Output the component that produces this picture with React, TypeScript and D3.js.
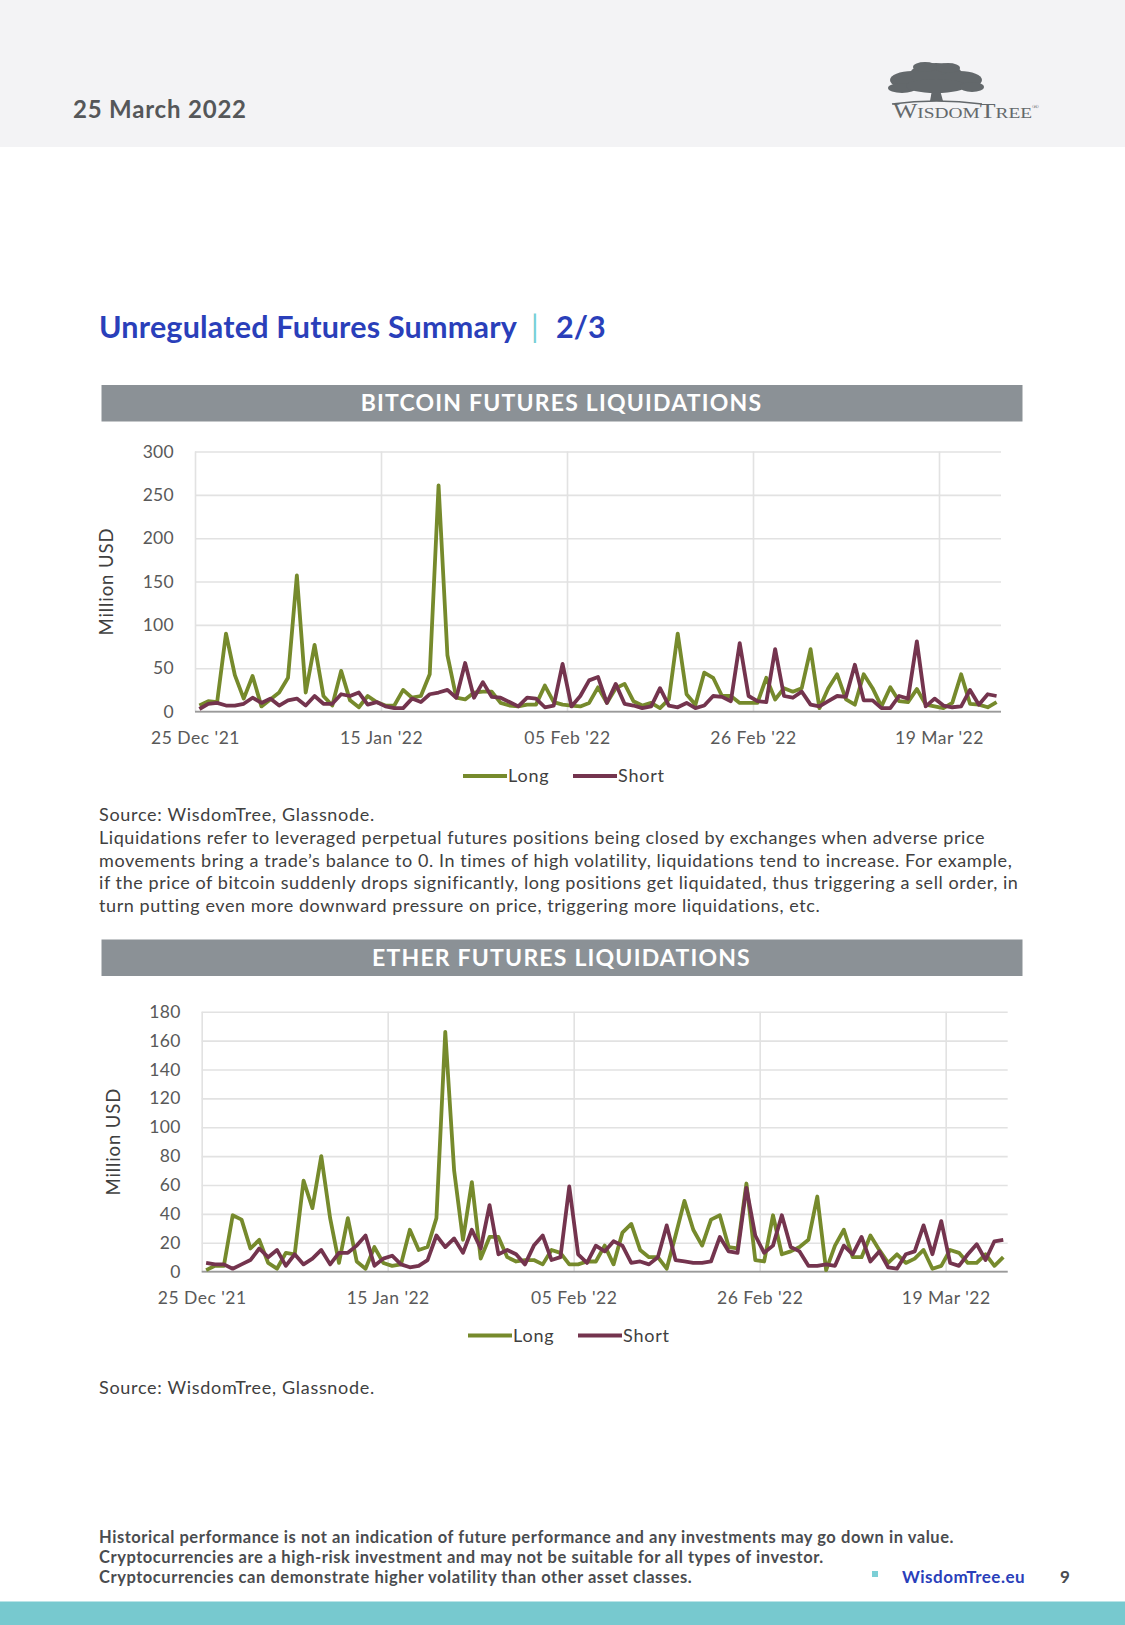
import React, { useRef, useEffect } from "react";
import * as d3 from "d3";

const W = 1125;
const H = 1625;
const FONT = "Lato, 'Open Sans', sans-serif";

// daily data, 25 Dec 2021 .. 25 Mar 2022
const START = new Date(2021, 11, 25);
const END = new Date(2022, 2, 26);
const days = d3.timeDay.range(START, END);

const btcLong = [
  7, 12, 11, 90, 42, 15, 41, 6, 14, 22, 39, 157, 22, 77, 18, 7, 47, 13, 5, 18,
  11, 7, 7, 25, 16, 18, 43, 261, 65, 16, 14, 22, 23, 23, 10, 7, 6, 8, 8, 30,
  11, 8, 7, 6, 10, 28, 10, 27, 32, 12, 7, 10, 4, 14, 90, 20, 8, 45, 39, 18,
  18, 10, 10, 10, 39, 14, 27, 23, 27, 72, 4, 27, 43, 14, 8, 43, 27, 6, 28, 12,
  11, 26, 8, 6, 4, 10, 43, 9, 8, 5, 11,
];
const btcShort = [
  3, 9, 10, 7, 7, 9, 16, 10, 15, 7, 13, 15, 7, 18, 9, 9, 20, 18, 22, 8,
  11, 6, 4, 4, 15, 11, 20, 22, 25, 16, 56, 16, 34, 17, 16, 11, 6, 16, 15, 5,
  7, 55, 6, 18, 36, 40, 10, 32, 9, 7, 4, 6, 27, 7, 5, 10, 4, 7, 18, 17,
  12, 79, 18, 12, 11, 72, 18, 16, 23, 8, 6, 12, 18, 17, 54, 13, 13, 4, 4, 18,
  15, 81, 6, 15, 7, 5, 6, 25, 8, 20, 18,
];
const ethLong = [
  1, 4, 4, 39, 36, 16, 22, 6, 2, 13, 12, 63, 44, 80, 37, 6, 37, 7, 2, 17,
  6, 4, 5, 29, 15, 17, 37, 166, 70, 22, 62, 9, 24, 24, 10, 7, 8, 8, 5, 15,
  13, 5, 5, 7, 7, 18, 5, 27, 33, 15, 10, 10, 2, 25, 49, 29, 18, 36, 39, 17,
  16, 61, 8, 7, 39, 12, 14, 17, 22, 52, 1, 18, 29, 10, 10, 25, 15, 6, 12, 6,
  9, 15, 2, 4, 15, 13, 6, 6, 12, 4, 10,
];
const ethShort = [
  6, 5, 5, 2, 5, 8, 16, 10, 15, 4, 12, 5, 9, 15, 5, 13, 13, 18, 25, 4,
  9, 11, 5, 3, 4, 8, 25, 17, 23, 13, 29, 16, 46, 12, 15, 12, 5, 18, 25, 8,
  10, 59, 12, 6, 18, 14, 21, 18, 6, 7, 5, 10, 32, 8, 7, 6, 6, 7, 24, 14,
  13, 58, 25, 13, 18, 39, 17, 14, 4, 4, 5, 4, 18, 12, 24, 7, 14, 3, 2, 12,
  14, 32, 12, 35, 6, 4, 12, 19, 8, 21, 22,
];

const xTicks = [
  new Date(2021, 11, 25),
  new Date(2022, 0, 15),
  new Date(2022, 1, 5),
  new Date(2022, 1, 26),
  new Date(2022, 2, 19),
];
const btcYTicks = [0, 50, 100, 150, 200, 250, 300];
const ethYTicks = [0, 20, 40, 60, 80, 100, 120, 140, 160, 180];
const seriesNames = ["Long", "Short"];
const seriesColors = ["#768a2c", "#74344e"];

const noteLines = [
  "Liquidations refer to leveraged perpetual futures positions being closed by exchanges when adverse price",
  "movements bring a trade\u2019s balance to 0. In times of high volatility, liquidations tend to increase. For example,",
  "if the price of bitcoin suddenly drops significantly, long positions get liquidated, thus triggering a sell order, in",
  "turn putting even more downward pressure on price, triggering more liquidations, etc.",
];
const disclaimer = [
  "Historical performance is not an indication of future performance and any investments may go down in value.",
  "Cryptocurrencies are a high-risk investment and may not be suitable for all types of investor.",
  "Cryptocurrencies can demonstrate higher volatility than other asset classes.",
];

type ChartCfg = {
  title: string;
  barTop: number;
  top: number;
  bottom: number;
  left: number;
  right: number;
  yMax: number;
  yTicks: number[];
  long: number[];
  short: number[];
  legendY: number;
  legendX: number;
  yTitleX: number;
};

const charts: ChartCfg[] = [
  {
    title: "BITCOIN FUTURES LIQUIDATIONS",
    barTop: 385,
    top: 451.5,
    bottom: 711.6,
    left: 195,
    right: 1001,
    yMax: 300,
    yTicks: btcYTicks,
    long: btcLong,
    short: btcShort,
    legendY: 776,
    legendX: 463,
    yTitleX: 107,
  },
  {
    title: "ETHER FUTURES LIQUIDATIONS",
    barTop: 939.5,
    top: 1011.7,
    bottom: 1271.6,
    left: 201.7,
    right: 1007.7,
    yMax: 180,
    yTicks: ethYTicks,
    long: ethLong,
    short: ethShort,
    legendY: 1335.5,
    legendX: 468,
    yTitleX: 114,
  },
];

function drawChart(svg: d3.Selection<SVGSVGElement, unknown, null, undefined>, c: ChartCfg) {
  const g = svg.append("g");

  // title bar
  g.append("rect")
    .attr("x", 101.5)
    .attr("y", c.barTop)
    .attr("width", 921)
    .attr("height", 36.5)
    .attr("fill", "#8b9196");
  g.append("text")
    .attr("x", 561.5)
    .attr("y", c.barTop + 26)
    .attr("text-anchor", "middle")
    .attr("fill", "#fff")
    .attr("font-weight", 700)
    .attr("font-size", 23)
    .attr("letter-spacing", 1.2)
    .text(c.title);

  const x = d3.scaleTime().domain([START, END]).range([c.left, c.right]);
  const y = d3.scaleLinear().domain([0, c.yMax]).range([c.bottom, c.top]);

  const yAxis = g
    .append("g")
    .attr("transform", `translate(${c.left},0)`)
    .call(
      d3.axisLeft(y).tickValues(c.yTicks).tickSize(-(c.right - c.left)).tickPadding(21)
    );
  yAxis.select(".domain").remove();
  yAxis.selectAll("line").attr("stroke", "#e2e2e2").attr("stroke-width", 1.6);
  yAxis
    .selectAll("text")
    .attr("fill", "#595959")
    .attr("font-size", 17.5)
    .attr("letter-spacing", 0.3)
    .attr("font-family", FONT);

  const xAxis = g
    .append("g")
    .attr("transform", `translate(0,${c.bottom})`)
    .call(
      d3
        .axisBottom(x)
        .tickValues(xTicks)
        .tickSize(-(c.bottom - c.top))
        .tickPadding(20)
        .tickFormat((d) => d3.timeFormat("%d %b '%y")(d as Date))
    );
  xAxis.select(".domain").remove();
  xAxis.selectAll("line").attr("stroke", "#e2e2e2").attr("stroke-width", 1.6);
  xAxis
    .selectAll("text")
    .attr("fill", "#595959")
    .attr("font-size", 17.5)
    .attr("letter-spacing", 0.5)
    .attr("font-family", FONT);

  // baseline
  g.append("line")
    .attr("x1", c.left)
    .attr("x2", c.right)
    .attr("y1", y(0))
    .attr("y2", y(0))
    .attr("stroke", "#9a9a9a")
    .attr("stroke-width", 1.6);

  g.append("text")
    .attr("transform", `translate(${c.yTitleX},${(c.top + c.bottom) / 2}) rotate(-90)`)
    .attr("text-anchor", "middle")
    .attr("dy", "0.35em")
    .attr("fill", "#404040")
    .attr("font-size", 18.5)
    .attr("letter-spacing", 0.9)
    .text("Million USD");

  const line = d3
    .line<number>()
    .x((_, i) => x(d3.timeHour.offset(days[i], 12)))
    .y((d) => y(d));

  [c.long, c.short].forEach((vals, k) => {
    g.append("path")
      .datum(vals)
      .attr("fill", "none")
      .attr("stroke", seriesColors[k])
      .attr("stroke-width", 3.8)
      .attr("stroke-linejoin", "round")
      .attr("d", line);
  });

  // legend
  const lg = g.append("g").attr("transform", `translate(${c.legendX},${c.legendY})`);
  seriesNames.forEach((name, k) => {
    const ox = k * 110;
    lg.append("line")
      .attr("x1", ox)
      .attr("x2", ox + 44)
      .attr("stroke", seriesColors[k])
      .attr("stroke-width", 3.8);
    lg.append("text")
      .attr("x", ox + 45)
      .attr("dy", "0.35em")
      .attr("fill", "#404040")
      .attr("font-size", 18)
      .attr("letter-spacing", 0.8)
      .text(name);
  });
}

function drawLogo(svg: d3.Selection<SVGSVGElement, unknown, null, undefined>) {
  const g = svg.append("g").attr("fill", "#63686b");
  const blobs = [
    [912, 80, 22, 9],
    [936, 74, 26, 11],
    [960, 80, 22, 9],
    [902, 88, 14, 5],
    [936, 86, 30, 7],
    [972, 87, 12, 5],
    [925, 67, 12, 5],
    [948, 68, 12, 5],
  ];
  blobs.forEach(([cx, cy, rx, ry]) =>
    g.append("ellipse").attr("cx", cx).attr("cy", cy).attr("rx", rx).attr("ry", ry)
  );
  g.append("path").attr("d", "M932,90 L930,101 L943,101 L940,90 Z");
  g.append("path")
    .attr("d", "M892,104 Q936,98 982,104")
    .attr("fill", "none")
    .attr("stroke", "#63686b")
    .attr("stroke-width", 1.5);
  const t = g
    .append("text")
    .attr("x", 893)
    .attr("y", 118)
    .attr("font-family", "'Liberation Serif', serif")
    .attr("textLength", 146)
    .attr("lengthAdjust", "spacingAndGlyphs");
  t.append("tspan").attr("font-size", 20).text("W");
  t.append("tspan").attr("font-size", 15).text("ISDOM");
  t.append("tspan").attr("font-size", 20).text("T");
  t.append("tspan").attr("font-size", 15).text("REE");
  t.append("tspan").attr("font-size", 7).attr("dy", -9).text("\u00ae");
}

export default function App() {
  const ref = useRef<SVGSVGElement | null>(null);

  useEffect(() => {
    if (!ref.current) return;
    const svg = d3.select(ref.current);
    svg.selectAll("*").remove();
    svg.attr("font-family", FONT);

    // header band
    svg.append("rect").attr("width", W).attr("height", 147).attr("fill", "#f3f3f5");
    svg.append("text")
      .attr("x", 73)
      .attr("y", 118)
      .attr("fill", "#555759")
      .attr("font-size", 24)
      .attr("font-weight", 700)
      .attr("letter-spacing", 0.8)
      .text("25 March 2022");
    drawLogo(svg);

    // page title
    const titleStyle = (s: d3.Selection<SVGTextElement, unknown, null, undefined>) =>
      s.attr("y", 338).attr("font-size", 30.5).attr("font-weight", 700).attr("fill", "#2a3fba");
    svg.append("text").call(titleStyle).attr("x", 99).attr("letter-spacing", 0.2)
      .text("Unregulated Futures Summary");
    svg.append("text").call(titleStyle).attr("x", 531).attr("font-weight", 400)
      .attr("fill", "#76cfd6").text("|");
    svg.append("text").call(titleStyle).attr("x", 556).text("2/3");

    charts.forEach((c) => drawChart(svg, c));

    // notes under charts
    const src = (yy: number) =>
      svg.append("text")
        .attr("x", 99)
        .attr("y", yy)
        .attr("fill", "#404040")
        .attr("font-size", 18)
        .attr("letter-spacing", 0.7)
        .text("Source: WisdomTree, Glassnode.");
    src(821);
    noteLines.forEach((s, i) => {
      svg.append("text")
        .attr("x", 99)
        .attr("y", 844 + i * 22.5)
        .attr("fill", "#404040")
        .attr("font-size", 18)
        .attr("letter-spacing", 0.57)
        .text(s);
    });
    src(1394);

    // footer
    disclaimer.forEach((s, i) => {
      svg.append("text")
        .attr("x", 99)
        .attr("y", 1543 + i * 20)
        .attr("fill", "#4a4c4f")
        .attr("font-size", 16.5)
        .attr("font-weight", 700)
        .attr("letter-spacing", 0.55)
        .text(s);
    });
    svg.append("rect").attr("x", 872).attr("y", 1571).attr("width", 6).attr("height", 6).attr("fill", "#7ccfd6");
    svg.append("text")
      .attr("x", 902)
      .attr("y", 1583)
      .attr("fill", "#2a3fba")
      .attr("font-size", 17)
      .attr("font-weight", 700)
      .attr("letter-spacing", 0.5)
      .text("WisdomTree.eu");
    svg.append("text")
      .attr("x", 1060)
      .attr("y", 1583)
      .attr("fill", "#4a4c4f")
      .attr("font-size", 17)
      .attr("font-weight", 700)
      .text("9");
    svg.append("rect").attr("y", 1601.5).attr("width", W).attr("height", H - 1601.5).attr("fill", "#77c9cf");
  }, []);

  return (
    <svg
      ref={ref}
      width={W}
      height={H}
      style={{ position: "absolute", left: 0, top: 0, background: "#fff" }}
    />
  );
}
